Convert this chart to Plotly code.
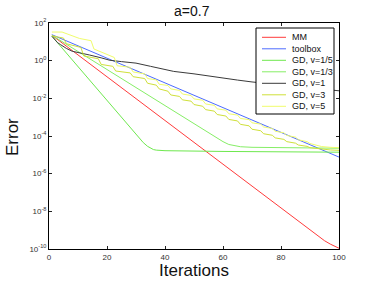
import plotly.graph_objects as go

# ---- data (log10 of error) ----
mm_x = [1, 50, 88, 91, 93, 95, 97, 99, 100]
mm_log = [1.35, -4.36, -8.78, -9.12, -9.35, -9.56, -9.74, -9.89, -9.96]

toolbox_x = [1, 50, 100]
toolbox_log = [1.38, -1.84, -5.12]

gd15_x = [1, 31, 32.5, 34, 35, 36, 37, 38, 40, 60, 100]
gd15_log = [1.3, -4.05, -4.35, -4.55, -4.65, -4.72, -4.75, -4.77, -4.78, -4.82, -4.86]

gd13_x = [1, 56, 58, 60, 62, 64, 66, 70, 80, 100]
gd13_log = [1.35, -3.96, -4.15, -4.3, -4.45, -4.53, -4.57, -4.6, -4.62, -4.65]

gd1_x = [1, 2, 3, 4, 6, 8, 10, 14, 18, 21, 25, 30, 35, 40, 43, 50, 55, 60, 65, 70, 80, 90, 100]
gd1_log = [1.3, 1.1, 0.95, 0.85, 0.65, 0.5, 0.42, 0.3, 0.15, 0.02, -0.05, -0.13, -0.3, -0.47,
           -0.57, -0.7, -0.82, -0.92, -1.03, -1.13, -1.3, -1.45, -1.6]

gd3_x = [1, 5, 6, 11, 12, 17, 18, 22, 23, 28, 29, 33, 34, 37, 38, 41, 42, 45, 46, 49, 50,
         53, 54, 57, 58, 61, 62, 65, 66, 69, 70, 73, 74, 77, 78, 81, 82, 85, 86, 89, 90,
         93, 94, 97, 100]
gd3_log = [1.32, 1.2, 0.9, 0.7, 0.25, 0.1, -0.2, -0.3, -0.55, -0.65, -0.85, -0.95, -1.2,
           -1.3, -1.5, -1.62, -1.82, -1.9, -2.08, -2.15, -2.33, -2.42, -2.6, -2.68, -2.86,
           -2.94, -3.12, -3.2, -3.38, -3.46, -3.64, -3.72, -3.88, -3.96, -4.1, -4.18, -4.3,
           -4.38, -4.48, -4.55, -4.62, -4.67, -4.71, -4.74, -4.76]

gd5_x = [1, 4.5, 10.5, 14.5, 15.5, 22.5, 23.5, 28, 29, 33, 34, 37, 38, 41, 42, 45, 46, 49,
         50, 53, 54, 57, 58, 61, 62, 65, 66, 69, 70, 73, 74, 77, 78, 81, 82, 85, 86, 89, 90,
         93, 94, 97, 100]
gd5_log = [1.52, 1.52, 1.18, 1.06, 0.62, 0.17, -0.27, -0.35, -0.6, -0.7, -0.95, -1.02,
           -1.25, -1.32, -1.5, -1.58, -1.77, -1.85, -2.03, -2.1, -2.3, -2.37, -2.56, -2.63,
           -2.82, -2.89, -3.07, -3.13, -3.3, -3.37, -3.52, -3.6, -3.75, -3.83, -3.97, -4.06,
           -4.2, -4.3, -4.4, -4.5, -4.56, -4.6, -4.62]

series_names = ["MM", "toolbox", "GD, v=1/5", "GD, v=1/3", "GD, v=1", "GD, v=3", "GD, v=5"]
series_x = [mm_x, toolbox_x, gd15_x, gd13_x, gd1_x, gd3_x, gd5_x]
series_log = [mm_log, toolbox_log, gd15_log, gd13_log, gd1_log, gd3_log, gd5_log]
series_colors = ["#ff3b3b", "#4d6bff", "#6ee84e", "#86ee66", "#3a3a3a", "#cfe03a", "#f0fc6c"]

y_tick_exp = [2, 0, -2, -4, -6, -8, -10]
x_ticks = [0, 20, 40, 60, 80, 100]

W, H = 374, 281
L, R, T, B = 49, 35, 23, 32
PW, PH = W - L - R, H - T - B


def px(x):
    return (x - L) / PW


def py(y):
    return (H - B - y) / PH


fig = go.Figure()
for name, xs, ls, col in zip(series_names, series_x, series_log, series_colors):
    fig.add_trace(go.Scatter(x=xs, y=[10 ** v for v in ls], mode="lines", name=name,
                             line=dict(color=col, width=1), showlegend=False))

font = "Liberation Sans, Arial, sans-serif"

# custom legend box (matches MATLAB-style compact legend)
shapes = [dict(type="rect", xref="paper", yref="paper", x0=px(256), x1=px(334),
               y0=py(114), y1=py(28), fillcolor="white",
               line=dict(color="black", width=1), layer="above")]
annotations = []
for i, (name, col) in enumerate(zip(series_names, series_colors)):
    yc = 37.3 + i * 11.5
    shapes.append(dict(type="line", xref="paper", yref="paper", x0=px(262), x1=px(286),
                       y0=py(yc), y1=py(yc), line=dict(color=col, width=1), layer="above"))
    annotations.append(dict(text=name, xref="paper", yref="paper", x=px(290), y=py(yc),
                            xanchor="left", yanchor="middle", showarrow=False,
                            font=dict(size=9, color="#111111", family=font)))

annotations += [
    dict(text="a=0.7", xref="paper", yref="paper", x=px(192), y=py(11), xanchor="center",
         yanchor="middle", showarrow=False, font=dict(size=14, color="#111111", family=font)),
    dict(text="Iterations", xref="paper", yref="paper", x=px(194), y=py(270),
         xanchor="center", yanchor="middle", showarrow=False,
         font=dict(size=17, color="#111111", family=font)),
    dict(text="Error", xref="paper", yref="paper", x=px(12), y=py(137), xanchor="center",
         yanchor="middle", showarrow=False, textangle=-90,
         font=dict(size=17, color="#111111", family=font)),
]

fig.update_layout(
    width=W, height=H,
    margin=dict(l=L, r=R, t=T, b=B, autoexpand=False),
    paper_bgcolor="white", plot_bgcolor="white",
    font=dict(family=font, color="#222222"),
    showlegend=False,
    shapes=shapes,
    annotations=annotations,
    xaxis=dict(range=[0, 100], tickvals=x_ticks, ticks="inside", automargin=False,
               ticklen=3, tickcolor="#222", showline=True, linecolor="black", linewidth=1,
               mirror="allticks", showgrid=False, zeroline=False,
               tickfont=dict(size=8, color="#333333")),
    yaxis=dict(type="log", range=[-10, 2], automargin=False,
               tickvals=[10 ** e for e in y_tick_exp],
               ticktext=["10<sup>%d</sup>" % e for e in y_tick_exp],
               ticks="inside", ticklen=3, tickcolor="#222",
               showline=True, linecolor="black", linewidth=1, mirror="allticks",
               showgrid=False, zeroline=False,
               tickfont=dict(size=8, color="#333333")),
)

fig.write_html("out.html", config={"displayModeBar": False, "staticPlot": True},
               post_script="document.body.style.margin='0';document.body.style.overflow='hidden';")
